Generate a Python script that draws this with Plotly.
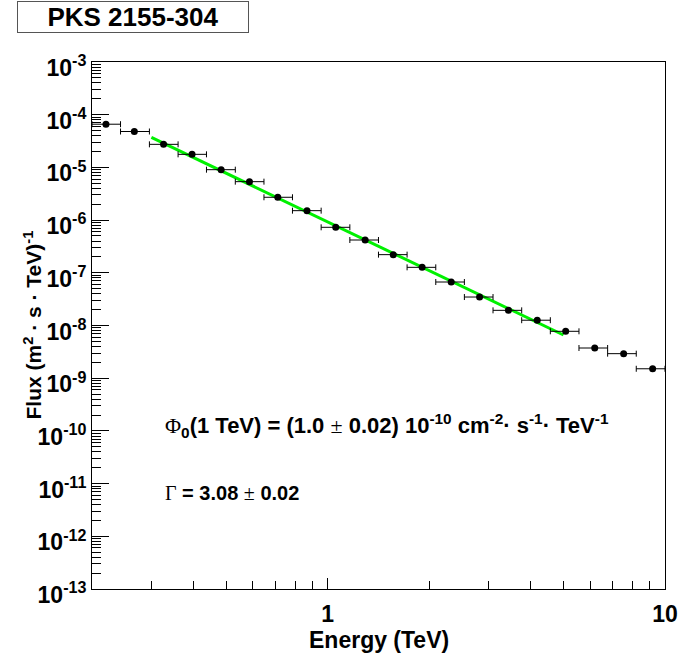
import plotly.graph_objects as go

# energy bin edges (TeV) and measured points
bin_edges = [0.200, 0.243, 0.296, 0.360, 0.437, 0.532, 0.647, 0.786, 0.956, 1.163,
             1.414, 1.719, 2.091, 2.542, 3.091, 3.759, 4.571, 5.558, 6.759, 8.218, 10.0]
energy = [0.220, 0.267, 0.326, 0.396, 0.483, 0.586, 0.711, 0.868, 1.056, 1.291,
          1.564, 1.905, 2.323, 2.820, 3.434, 4.180, 5.076, 6.190, 7.540, 9.190]
flux = [6.6e-5, 4.8e-5, 2.74e-5, 1.77e-5, 9.05e-6, 5.36e-6, 2.71e-6, 1.51e-6, 7.3e-7, 4.19e-7,
        2.21e-7, 1.27e-7, 6.69e-8, 3.47e-8, 1.94e-8, 1.26e-8, 7.76e-9, 3.74e-9, 2.92e-9, 1.51e-9]
flux_err = [1.5e-6, 1.0e-6, 5e-7, 3e-7, 1.5e-7, 9e-8, 5e-8, 3e-8, 1.5e-8, 9e-9,
            5e-9, 3e-9, 1.6e-9, 9e-10, 6e-10, 4e-10, 3e-10, 2e-10, 2e-10, 1.8e-10]

# power-law fit drawn between its end points (straight on log-log)
fit_energy = [0.30, 5.0]
fit_flux = [3.72e-5, 6.6e-9]

y_tick_vals = [10.0 ** k for k in range(-13, -2)]
y_tick_text = ["<b>10<sup>%d</sup></b>" % k for k in range(-13, -2)]

FONT = "Arial, Liberation Sans, sans-serif"

e_lo = [e - lo for e, lo in zip(energy, bin_edges[:-1])]
e_hi = [hi - e for e, hi in zip(energy, bin_edges[1:])]

fig = go.Figure()

fig.add_trace(go.Scatter(
    x=fit_energy, y=fit_flux, mode="lines",
    line=dict(color="#00f000", width=3),
    showlegend=False
))

fig.add_trace(go.Scatter(
    x=energy, y=flux, mode="markers",
    marker=dict(color="black", size=7),
    error_x=dict(type="data", symmetric=False, array=e_hi, arrayminus=e_lo,
                 color="black", thickness=1, width=3),
    error_y=dict(type="data", array=flux_err, color="black", thickness=1, width=0),
    showlegend=False
))

serif = "<span style='font-family:Liberation Serif, Times New Roman, serif;font-weight:normal'>%s</span>"

# plot area is 573 x 527 px starting at (92, 62)
fig.add_annotation(
    x=(163 - 92) / 573, y=0.311, xref="paper", yref="paper",
    xanchor="left", yanchor="middle", showarrow=False,
    text="<b>" + serif % "Φ" + "<sub>0</sub>(1 TeV) = (1.0 " + serif % "±"
         + " 0.02) 10<sup>-10</sup> cm<sup>-2</sup>· s<sup>-1</sup>· TeV<sup>-1</sup></b>",
    font=dict(family=FONT, size=22, color="black")
)
fig.add_annotation(
    x=(163 - 92) / 573, y=0.182, xref="paper", yref="paper",
    xanchor="left", yanchor="middle", showarrow=False,
    text="<b>" + serif % "Γ" + " = 3.08 " + serif % "±" + " 0.02</b>",
    font=dict(family=FONT, size=20, color="black")
)

# title box
fig.add_annotation(
    x=(17 - 92) / 573, y=(589 - 0.5) / 527, xref="paper", yref="paper",
    xanchor="left", yanchor="top", showarrow=False,
    text="<b>PKS 2155-304</b>", width=228, height=28, align="center",
    bordercolor="#555555", borderwidth=1, borderpad=1, bgcolor="white",
    font=dict(family=FONT, size=26, color="black")
)

# axis titles
fig.add_annotation(
    x=0.5, y=(589 - 640) / 527, xref="paper", yref="paper",
    xanchor="center", yanchor="middle", showarrow=False,
    text="<b>Energy (TeV)</b>", font=dict(family=FONT, size=23, color="black")
)
fig.add_annotation(
    x=(32 - 92) / 573, y=0.5, xref="paper", yref="paper",
    xanchor="center", yanchor="middle", showarrow=False, textangle=-90,
    text="<b>Flux (m<sup>2</sup> · s · TeV)<sup>-1</sup></b>",
    font=dict(family=FONT, size=21, color="black")
)

fig.update_layout(
    width=678, height=659,
    margin=dict(l=92, r=13, t=62, b=70, autoexpand=False),
    paper_bgcolor="white", plot_bgcolor="white",
    font=dict(family=FONT, color="black"),
    showlegend=False
)

fig.update_xaxes(
    type="log", range=[-0.69897, 1.0], automargin=False,
    showgrid=False, zeroline=False,
    showline=True, linecolor="black", linewidth=1, mirror=True,
    ticks="inside", ticklen=11, tickcolor="black",
    tickmode="linear", tick0=0, dtick=1,
    tickfont=dict(family=FONT, size=23, weight="bold"),
    ticklabelstandoff=4,
    minor=dict(ticks="inside", ticklen=8, dtick="D1", tickcolor="black", showgrid=False)
)

fig.update_yaxes(
    type="log", range=[-13, -3], automargin=False,
    showgrid=False, zeroline=False,
    showline=True, linecolor="black", linewidth=1, mirror=True,
    ticks="inside", ticklen=17, tickcolor="black",
    tickmode="array", tickvals=y_tick_vals, ticktext=y_tick_text,
    tickfont=dict(family=FONT, size=23),
    ticklabelshift=6,
    minor=dict(ticks="inside", ticklen=9, dtick="D1", tickcolor="black", showgrid=False)
)

# drop the default page margin so the figure sits at the window corner
fig.write_html("out.html", config={"displayModeBar": False},
               post_script="document.body.style.margin='0';")
